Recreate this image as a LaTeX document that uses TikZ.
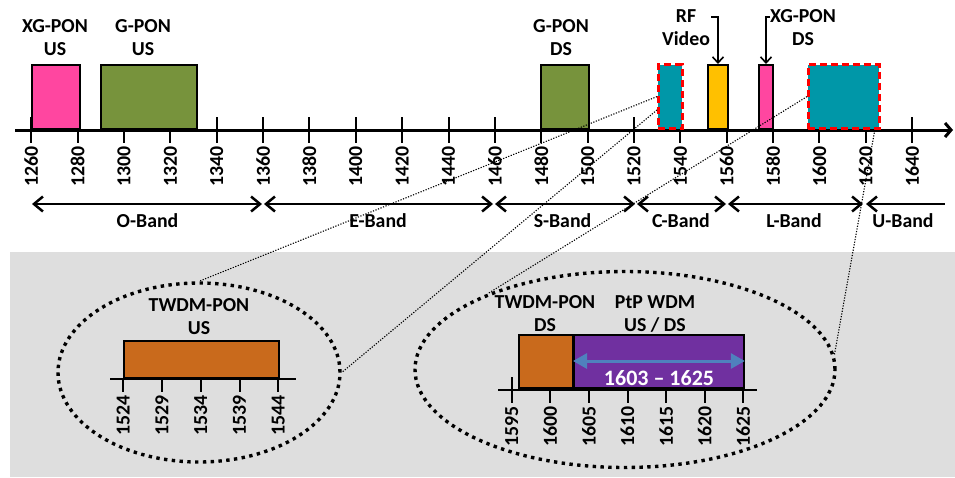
\documentclass[tikz,border=0pt]{standalone}
\usepackage{fontspec}
\setmainfont{Carlito}
\usetikzlibrary{arrows.meta,shapes.geometric,calc}
\definecolor{pinkc}{HTML}{FF46A0}
\definecolor{greenc}{HTML}{77933C}
\definecolor{tealc}{HTML}{0097A8}
\definecolor{rfc}{HTML}{FFC000}
\definecolor{brownc}{HTML}{C96A1C}
\definecolor{purplec}{HTML}{7030A0}
\definecolor{bluec}{HTML}{4F81BD}
\definecolor{graybg}{HTML}{DEDEDE}
\tikzset{barb/.tip={Straight Barb[length=9pt,width=15pt]}}
\begin{document}
\begin{tikzpicture}[x=1pt,y=-1pt,
  every node/.style={inner sep=0pt, font=\fontsize{19.8}{23}\selectfont\bfseries},
  lbl/.style={align=center},
  tickl/.style={rotate=90, anchor=east},
  tickline/.style={line width=2pt},
  axisline/.style={line width=3pt},
  box/.style={draw=black, line width=2pt, anchor=south west},
  dbox/.style={draw=red, line width=2.8pt, dash pattern=on 7pt off 4pt, fill=tealc, anchor=south west},
  band/.style={line width=2.5pt},
  ptr/.style={line width=1.6pt, -{Straight Barb[length=6pt,width=11pt]}},
  zoomline/.style={line width=1.1pt, dash pattern=on 1.2pt off 1.5pt},
  ell/.style={ellipse, draw=black, line width=3.4pt, dash pattern=on 3.4pt off 4.4pt}
]
\useasboundingbox (0,0) rectangle (955,477);
\fill[graybg] (10,252) rectangle (955,477);

% main ticks and labels
\foreach \l in {1260,1280,...,1640}{
  \pgfmathsetmacro\xx{31.3+(\l-1260)*2.318}
  \draw[tickline] (\xx,117) -- (\xx,143);
  \node[tickl] (t\l) at (\xx,146) {\l};
}
\coordinate (axL) at (15,130);
\coordinate (axR) at (953,130);
\draw[axisline, -{Straight Barb[length=6pt,width=14pt]}] (axL) -- (axR);

% boxes
\node[box, fill=pinkc, minimum width=48pt, minimum height=64pt] (xgus) at (31,130) {};
\node[box, fill=greenc, minimum width=96pt, minimum height=64pt] (gus) at (100,130) {};
\node[box, fill=greenc, minimum width=48pt, minimum height=64pt] (gds) at (540,130) {};
\node[dbox, minimum width=24pt, minimum height=64pt] (cbox) at (657,130) {};
\node[box, fill=rfc, minimum width=20pt, minimum height=64pt] (rf) at (707,130) {};
\node[box, fill=pinkc, minimum width=14pt, minimum height=64pt] (xgds) at (758,130) {};
\node[dbox, minimum width=71pt, minimum height=64pt] (lbox) at (807,130) {};

% labels
\node[lbl] (lxgus) at (55,37.5) {XG-PON\\US};
\node[lbl] (lgus) at (143,37.5) {G-PON\\US};
\node[lbl] (lgds) at (561,37.5) {G-PON\\DS};
\node[lbl] (lrf) at (686,28) {RF\\Video};
\node[lbl] (lxgds) at (803,28) {XG-PON\\DS};
\coordinate (rfa) at (711,17);
\coordinate (xga) at (770,17);
\draw[ptr] (rfa) -| (rf.north);
\draw[ptr] (xga) -| (xgds.north);

% bands
\coordinate (b0) at (32,204);
\coordinate (b1a) at (262,204);
\coordinate (b1b) at (264,204);
\coordinate (b2a) at (493,204);
\coordinate (b2b) at (495,204);
\coordinate (b3a) at (635,204);
\coordinate (b3b) at (637,204);
\coordinate (b4a) at (726,204);
\coordinate (b4b) at (728,204);
\coordinate (b5a) at (863,204);
\coordinate (b5b) at (866,204);
\coordinate (b6) at (945,204);
\draw[band, {barb}-{barb}] (b0) -- (b1a);
\draw[band, {barb}-{barb}] (b1b) -- (b2a);
\draw[band, {barb}-{barb}] (b2b) -- (b3a);
\draw[band, {barb}-{barb}] (b3b) -- (b4a);
\draw[band, {barb}-{barb}] (b4b) -- (b5a);
\draw[band, {barb}-] (b5b) -- (b6);
\node (nO) at (147.5,221) {O-Band};
\node (nE) at (378,221) {E-Band};
\node (nS) at (562.5,221) {S-Band};
\node (nC) at (681,221) {C-Band};
\node (nL) at (794,221) {L-Band};
\node (nU) at (903,221) {U-Band};

% ellipses
\node[ell, minimum width=282pt, minimum height=179pt] (ellL) at (199,372.5) {};
\node[ell, minimum width=420pt, minimum height=196pt] (ellR) at (625,369.5) {};

% zoom lines
\draw[zoomline] (cbox.west) -- (ellL.north);
\draw[zoomline] ($(cbox.west)!0.4!(cbox.south west)$) -- (ellL.east);
\draw[zoomline] (lbox.west) -- (ellR.151);
\draw[zoomline] ($(lbox.south east)+(-6,0)$) -- (ellR.4);

% left detail
\node[lbl] (ltw) at (199,317) {TWDM-PON\\US};
\node[box, fill=brownc, line width=1.8pt, minimum width=155pt, minimum height=37pt] (twus) at (122.7,379) {};
\coordinate (laL) at (110,379);
\coordinate (laR) at (296,379);
\draw[tickline] (laL) -- (laR);
\foreach \l in {1524,1529,1534,1539,1544}{
  \pgfmathsetmacro\xx{123.3+(\l-1524)*7.75}
  \draw[tickline] (\xx,379) -- (\xx,392);
  \node[tickl] (u\l) at (\xx,395.5) {\l};
}

% right detail
\node[lbl] (ltwds) at (545,314) {TWDM-PON\\DS};
\node[lbl] (lptp) at (655,314) {PtP WDM\\US / DS};
\node[box, fill=brownc, line width=1.8pt, minimum width=54pt, minimum height=53pt] (twds) at (518,389) {};
\node[box, fill=purplec, line width=1.8pt, minimum width=170pt, minimum height=53pt] (ptp) at (573,389) {};
\coordinate (raL) at (498,390);
\coordinate (raR) at (757,390);
\draw[tickline] (raL) -- (raR);
\foreach \l in {1595,1600,...,1625}{
  \pgfmathsetmacro\xx{511.7+(\l-1595)*7.72}
  \draw[tickline] (\xx,390) -- (\xx,403);
  \node[tickl] (d\l) at (\xx,406.5) {\l};
}
\draw[tickline] (d1595.east |- 0,377) -- (d1595.east |- 0,390);
\draw[line width=3pt, bluec, {Triangle[length=14pt,width=15pt]}-{Triangle[length=14pt,width=15pt]}] (ptp.west |- 0,361) -- (ptp.east |- 0,361);
\node[text=white, font=\fontsize{22}{24}\selectfont\bfseries] (rng) at (659,378) {1603 \textendash{} 1625};
\end{tikzpicture}
\end{document}
